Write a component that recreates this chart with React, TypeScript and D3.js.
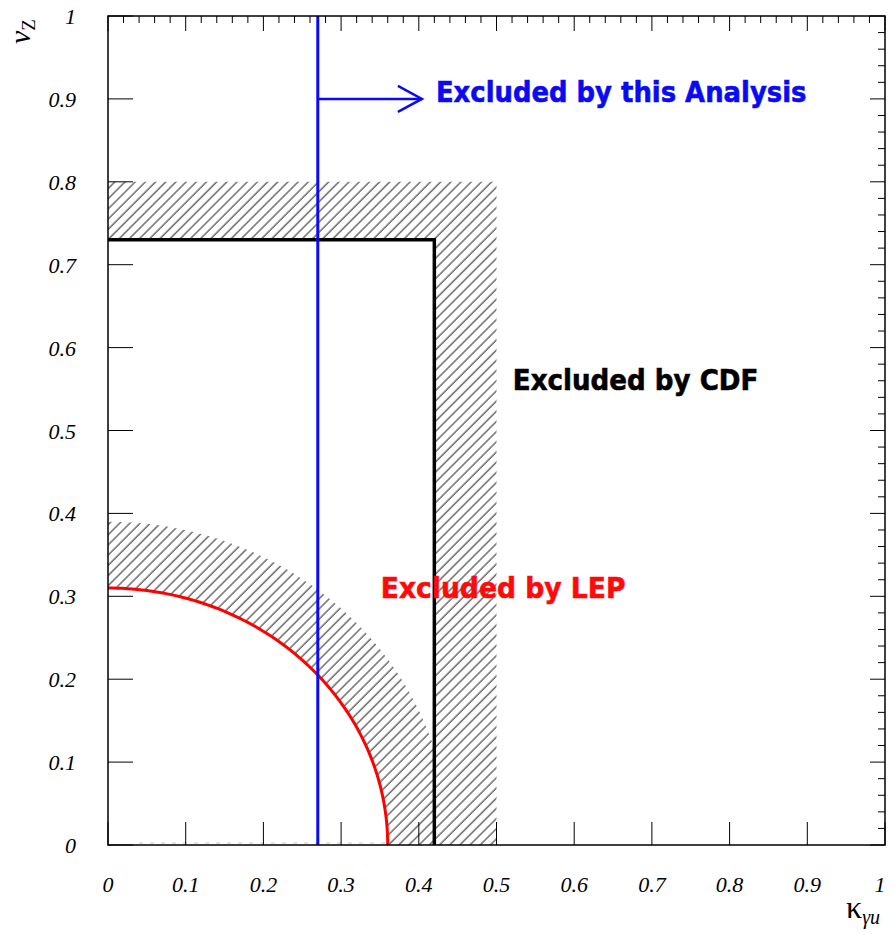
import React from "react";
import * as d3 from "d3";

// ---- data ----
const xTickValues = [0, 0.1, 0.2, 0.3, 0.4, 0.5, 0.6, 0.7, 0.8, 0.9, 1];
const yTickValues = [0, 0.1, 0.2, 0.3, 0.4, 0.5, 0.6, 0.7, 0.8, 0.9, 1];
const tickLabels = ["0", "0.1", "0.2", "0.3", "0.4", "0.5", "0.6", "0.7", "0.8", "0.9", "1"];

// vertical limit of this analysis (kappa)
const thisAnalysisKappa = [0.27];
const arrowNu = [0.9];
const arrowTipKappa = [0.404];

// CDF limit box: [kappa, nu] and its band edge
const cdfLimit = [0.42, 0.73];
const cdfBand = [0.5, 0.8];

// LEP elliptical contour semi-axes [kappa, nu] and band edge
const lepLimit = [0.36, 0.31];
const lepBand = [0.44, 0.39];

// region labels
const labelTexts = ["Excluded by this Analysis", "Excluded by CDF", "Excluded by LEP"];
const labelKappa = [0.422, 0.521, 0.351];
const labelNu = [0.896, 0.549, 0.298];
const labelWidth = [0.477, 0.316, 0.315];
const labelColors = ["#0a0af5", "#000000", "#ff0a0a"];

const W = 892;
const H = 935;
const left = 108;
const right = 885;
const top = 16;
const bottom = 845;

export default function App() {
  const x = d3.scaleLinear().domain([0, 1]).range([left, right]);
  const y = d3.scaleLinear().domain([0, 1]).range([bottom, top]);

  const angles = d3.range(0, 91, 1).map((a) => (a * Math.PI) / 180);
  const ellipsePts = (a: number, b: number) =>
    angles.map((t) => [a * Math.sin(t), b * Math.cos(t)] as [number, number]);

  const line = d3
    .line<[number, number]>()
    .x((d) => x(d[0]))
    .y((d) => y(d[1]));

  const lepArc = line(ellipsePts(lepLimit[0], lepLimit[1])) || "";

  const bandOuter = ellipsePts(lepBand[0], lepBand[1]);
  const bandInner = ellipsePts(lepLimit[0], lepLimit[1]).slice().reverse();
  const lepBandPath = (line([...bandOuter, ...bandInner]) || "") + "Z";

  const cdfBandPath =
    (line([
      [0, cdfBand[1]],
      [cdfBand[0], cdfBand[1]],
      [cdfBand[0], 0],
      [cdfLimit[0], 0],
      [cdfLimit[0], cdfLimit[1]],
      [0, cdfLimit[1]],
    ]) || "") + "Z";

  const cdfLine =
    line([
      [0, cdfLimit[1]],
      [cdfLimit[0], cdfLimit[1]],
      [cdfLimit[0], 0],
    ]) || "";

  const minorTicks = d3.range(0, 51).map((i) => i * 0.02);

  const ax = thisAnalysisKappa[0];
  const tipX = x(arrowTipKappa[0]);
  const ay = y(arrowNu[0]);

  const tickFont = "Liberation Serif, Times New Roman, Times, serif";

  return (
    <svg
      width={W}
      height={H}
      style={{ position: "absolute", left: 0, top: 0, background: "#fff" }}
    >
      <defs>
        <pattern
          id="hatch"
          patternUnits="userSpaceOnUse"
          width={7.2}
          height={10}
          patternTransform="rotate(45)"
        >
          <line x1={1} y1={0} x2={1} y2={10} stroke="#222" strokeWidth={1} />
        </pattern>
        <clipPath id="hatchClip">
          <path d={cdfBandPath} />
          <path d={lepBandPath} />
        </clipPath>
      </defs>
      <rect x={0} y={0} width={W} height={H} fill="#fff" />

      {/* hatched bands */}
      <rect
        x={x(0)}
        y={y(1)}
        width={x(1) - x(0)}
        height={y(0) - y(1)}
        fill="url(#hatch)"
        clipPath="url(#hatchClip)"
      />

      {/* faint dashed line near axis inside LEP region */}
      <line
        x1={x(0.04)}
        x2={x(lepLimit[0])}
        y1={y(0) - 2}
        y2={y(0) - 2}
        stroke="#c8c8c8"
        strokeWidth={1}
        strokeDasharray="4 7"
      />

      {/* bottom ticks */}
      {xTickValues.map((v, i) => (
        <line key={"bx" + i} x1={x(v)} x2={x(v)} y1={bottom} y2={bottom - 23} stroke="#000" strokeWidth={1} />
      ))}
      {/* left ticks */}
      {yTickValues.map((v, i) => (
        <line key={"ly" + i} x1={left} x2={left + 25} y1={y(v)} y2={y(v)} stroke="#000" strokeWidth={1} />
      ))}
      {/* top ticks */}
      {minorTicks.map((v, i) => (
        <line
          key={"tx" + i}
          x1={x(v)}
          x2={x(v)}
          y1={top}
          y2={top + (i % 5 === 0 ? 15 : 7)}
          stroke="#000"
          strokeWidth={1}
        />
      ))}
      {/* right ticks */}
      {minorTicks.map((v, i) => (
        <line
          key={"ry" + i}
          x1={right}
          x2={right - (i % 5 === 0 ? 15 : 7)}
          y1={y(v)}
          y2={y(v)}
          stroke="#000"
          strokeWidth={1}
        />
      ))}

      {/* CDF limit */}
      <path d={cdfLine} fill="none" stroke="#000" strokeWidth={3.5} />

      {/* LEP limit */}
      <path d={lepArc} fill="none" stroke="#ff0000" strokeWidth={3} />

      {/* this analysis */}
      <line x1={x(ax)} x2={x(ax)} y1={y(0)} y2={y(1)} stroke="#0a0af5" strokeWidth={3} />
      <line x1={x(ax)} x2={tipX} y1={ay} y2={ay} stroke="#0a0af5" strokeWidth={2.5} />
      <polyline
        points={`${tipX - 24},${ay - 13} ${tipX},${ay} ${tipX - 24},${ay + 13}`}
        fill="none"
        stroke="#0a0af5"
        strokeWidth={2.5}
      />

      {/* frame */}
      <rect
        x={left}
        y={top}
        width={right - left}
        height={bottom - top}
        fill="none"
        stroke="#000"
        strokeWidth={1.5}
      />

      {/* tick labels */}
      {xTickValues.map((v, i) => (
        <text
          key={"xl" + i}
          x={x(v) - (i === xTickValues.length - 1 ? 5 : 0)}
          y={892}
          textAnchor="middle"
          fontFamily={tickFont}
          fontStyle="italic"
          fontSize={22}
        >
          {tickLabels[i]}
        </text>
      ))}
      {yTickValues.map((v, i) => (
        <text
          key={"yl" + i}
          x={76}
          y={y(v) + 8}
          textAnchor="end"
          fontFamily={tickFont}
          fontStyle="italic"
          fontSize={22}
        >
          {tickLabels[i]}
        </text>
      ))}

      {/* axis titles */}
      <text
        transform="translate(30,44) rotate(-90)"
        fontFamily={tickFont}
        fontStyle="italic"
        fontSize={30}
      >
        <tspan>v</tspan>
        <tspan fontSize={19} dy={5} fontStyle="normal">Z</tspan>
      </text>
      <text x={846} y={918} fontFamily={tickFont} fontSize={32}>
        <tspan>κ</tspan>
        <tspan fontSize={20} dy={6} fontStyle="italic">γu</tspan>
      </text>

      {/* region labels */}
      {labelTexts.map((t, i) => (
        <text
          key={"lab" + i}
          x={x(labelKappa[i])}
          y={y(labelNu[i])}
          fill={labelColors[i]}
          stroke={labelColors[i]}
          strokeWidth={0.6}
          fontFamily="DejaVu Sans, sans-serif"
          fontWeight="bold"
          fontSize={29}
          textLength={x(labelWidth[i]) - x(0)}
          lengthAdjust="spacingAndGlyphs"
        >
          {t}
        </text>
      ))}
    </svg>
  );
}
